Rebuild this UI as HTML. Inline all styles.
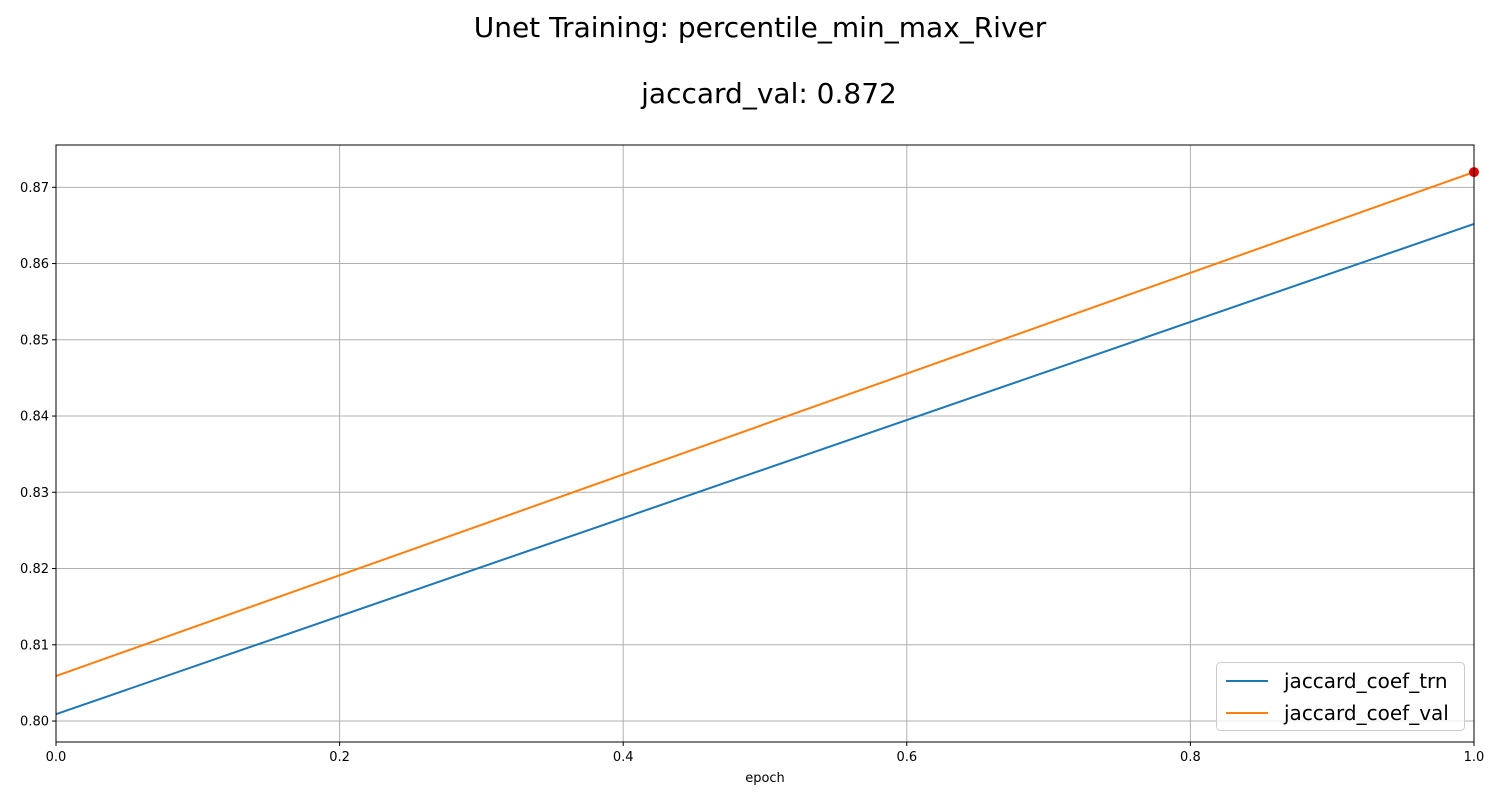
<!DOCTYPE html>
<html><head><meta charset="utf-8"><style>
body{margin:0;background:#fff;font-family:"DejaVu Sans","Liberation Sans",sans-serif;}
svg{display:block;font-family:"DejaVu Sans","Liberation Sans",sans-serif;}
</style></head><body>
<svg id="chart" width="1500" height="800">
<text x="760" y="37" text-anchor="middle" font-size="28">Unet Training: percentile_min_max_River</text>
<text x="769" y="103" text-anchor="middle" font-size="28">jaccard_val: 0.872</text>
<g id="grid"></g><g id="series"></g><g id="axes"></g>
<text x="765" y="782" text-anchor="middle" font-size="13">epoch</text>
</svg>
<script>
const epochs=[0,1];
const trn=[0.8009,0.8652];
const val=[0.8059,0.8720];
const xTicks=[0,0.2,0.4,0.6,0.8,1.0];
const xTickLabels=["0.0","0.2","0.4","0.6","0.8","1.0"];
const yTicks=[0.80,0.81,0.82,0.83,0.84,0.85,0.86,0.87];
const yTickLabels=["0.80","0.81","0.82","0.83","0.84","0.85","0.86","0.87"];
const X0=56,X1=1474,Y0=145,Y1=742,YMIN=0.79725,YMAX=0.87555;
const sx=v=>X0+(v-0)/(1-0)*(X1-X0);
const sy=v=>Y1-(v-YMIN)/(YMAX-YMIN)*(Y1-Y0);
const NS="http://www.w3.org/2000/svg";
function mk(t,a,p){const e=document.createElementNS(NS,t);for(const k in a)e.setAttribute(k,a[k]);p.appendChild(e);return e;}
const grid=document.getElementById('grid'),ser=document.getElementById('series'),ax=document.getElementById('axes');
xTicks.forEach((t,i)=>{const x=sx(t);
const g=mk('line',{x1:x,x2:x,y1:Y0,y2:Y1,stroke:'#b0b0b0','stroke-width':1},grid);

mk('line',{x1:x,x2:x,y1:Y1,y2:Y1+4,stroke:'#000'},ax);
const l=mk('text',{x:x,y:Y1+19,'text-anchor':'middle','font-size':13},ax);l.textContent=xTickLabels[i];
});
yTicks.forEach((t,i)=>{const y=sy(t);
const g=mk('line',{x1:X0,x2:X1,y1:y,y2:y,stroke:'#b0b0b0','stroke-width':1},grid);

mk('line',{x1:X0-4,x2:X0,y1:y,y2:y,stroke:'#000'},ax);
const l=mk('text',{x:X0-7,y:y+4.5,'text-anchor':'end','font-size':13},ax);l.textContent=yTickLabels[i];
});
function line(d,c,n){const p=mk('polyline',{points:d.map((v,i)=>sx(epochs[i])+','+sy(v)).join(' '),fill:'none',stroke:c,'stroke-width':2},ser);
}
line(trn,'#1f77b4','trn-line');line(val,'#ff7f0e','val-line');
const best=val.indexOf(Math.max(...val));
const dot=mk('circle',{cx:sx(epochs[best]),cy:sy(val[best]),r:5,fill:'#e00000'},ser);

const fr=mk('rect',{x:X0,y:Y0,width:X1-X0,height:Y1-Y0,fill:'none',stroke:'#000','stroke-width':1},ax);

const lg=mk('g',{},ax);
mk('rect',{x:1216.5,y:662.5,width:248,height:68,rx:4,fill:'#fff','fill-opacity':0.8,stroke:'#ccc'},lg);
[['jaccard_coef_trn','#1f77b4',681],['jaccard_coef_val','#ff7f0e',713]].forEach(([t,c,y])=>{
const e=mk('g',{},lg);
mk('line',{x1:1226,x2:1268,y1:y,y2:y,stroke:c,'stroke-width':2},e);
const tx=mk('text',{x:1284,y:y+7,'font-size':20},e);tx.textContent=t;});
</script>
</body></html>
